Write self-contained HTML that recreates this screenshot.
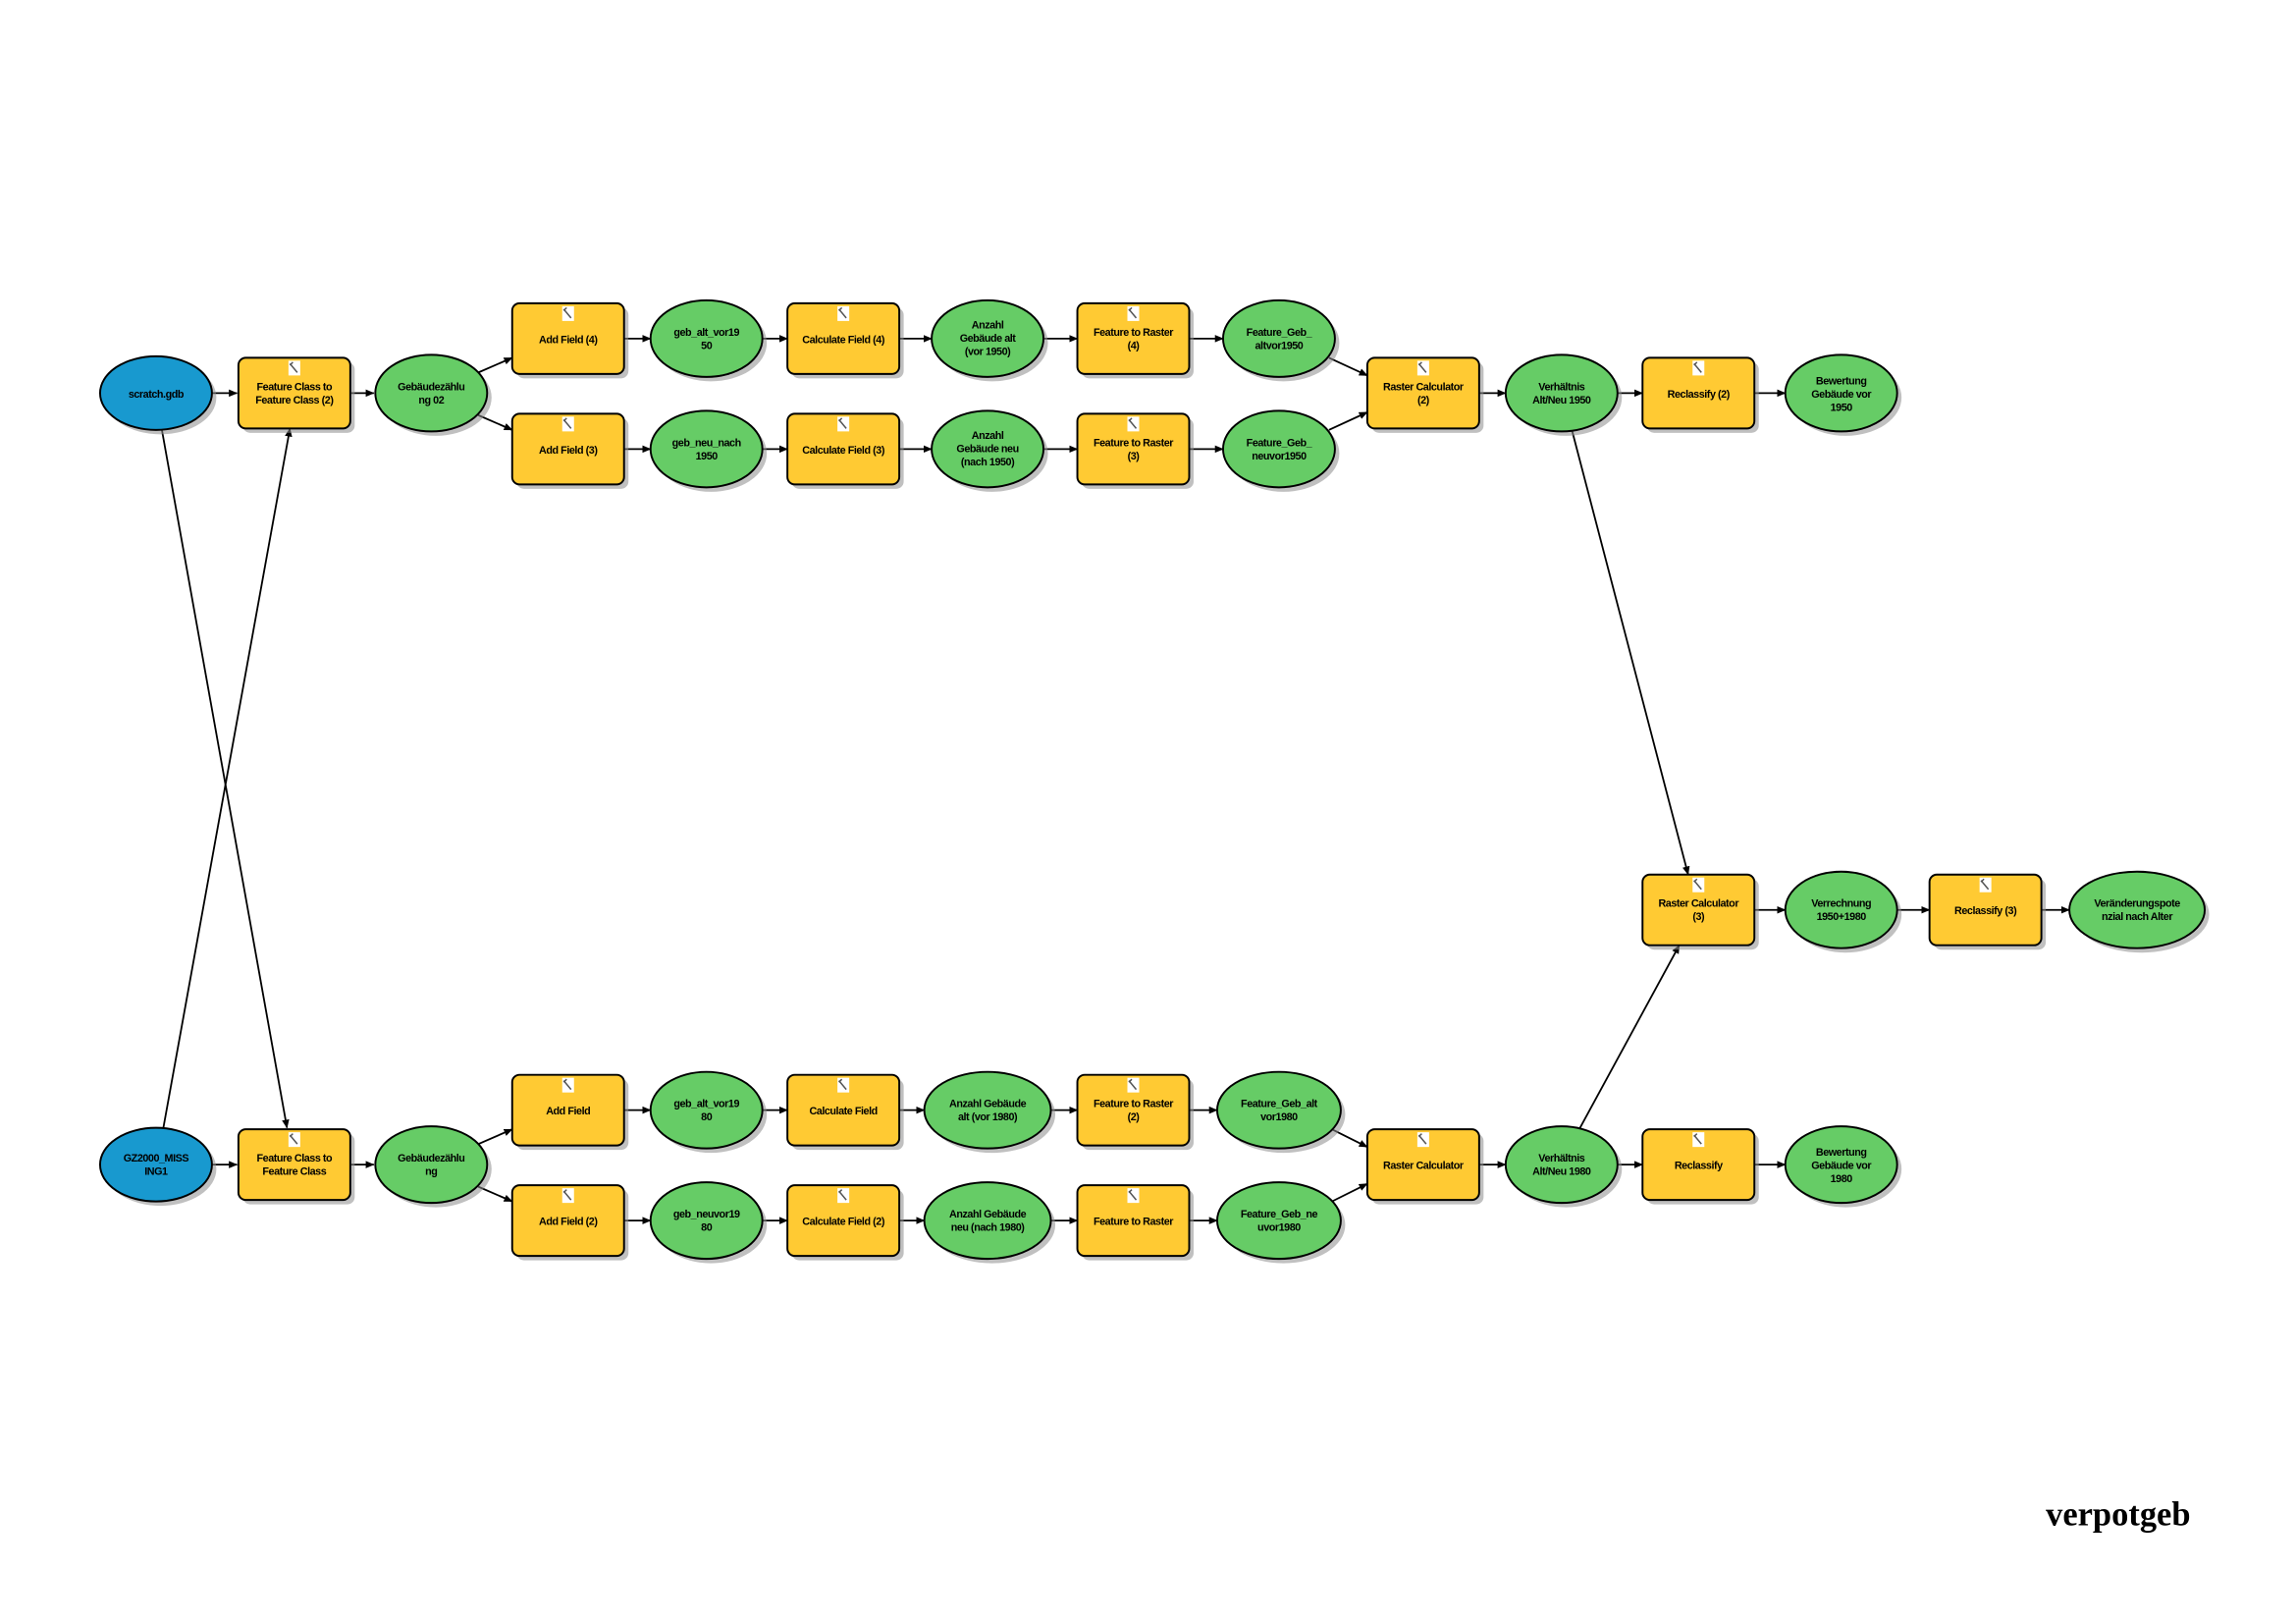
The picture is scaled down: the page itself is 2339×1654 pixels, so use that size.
<!DOCTYPE html>
<html><head><meta charset="utf-8"><style>
html,body{margin:0;padding:0;background:#fff}
svg{display:block}
text{font-family:"Liberation Sans",Arial,sans-serif;font-weight:bold;font-size:7.2px;text-anchor:middle;fill:#000;letter-spacing:-0.3px}
.b{fill:#FFCA33;stroke:#000;stroke-width:1.3}
.g{fill:#66CC66;stroke:#000;stroke-width:1.3}
.u{fill:#1899CF;stroke:#000;stroke-width:1.3}
.s{fill:#8c8c8c;opacity:.55}
.l{stroke:#000;stroke-width:1.2;fill:none;marker-end:url(#a)}
.ic{fill:#fff}
</style></head><body>
<svg width="2339" height="1654" viewBox="0 0 1560 1103" preserveAspectRatio="none" xmlns="http://www.w3.org/2000/svg">
<defs><marker id="a" markerWidth="6" markerHeight="6" refX="5.5" refY="3" orient="auto" markerUnits="userSpaceOnUse"><path d="M0,0.5 L6,3 L0,5.5z" fill="#000"/></marker>
<g id="icon"><rect x="-4" y="-22" width="8" height="10" class="ic"/><path d="M-3,-20 L2,-14 M-1,-21 L-3,-19" stroke="#555" stroke-width="1"/></g>
</defs>

<!-- edges -->
<g>
<line class="l" x1="144" y1="267" x2="161" y2="267"/>
<line class="l" x1="238" y1="267" x2="254" y2="267"/>
<line class="l" x1="325" y1="253" x2="348" y2="243"/>
<line class="l" x1="325" y1="282" x2="348" y2="292"/>
<line class="l" x1="424" y1="230" x2="442" y2="230"/>
<line class="l" x1="518" y1="230" x2="535" y2="230"/>
<line class="l" x1="611" y1="230" x2="633" y2="230"/>
<line class="l" x1="709" y1="230" x2="732" y2="230"/>
<line class="l" x1="808" y1="230" x2="831" y2="230"/>
<line class="l" x1="903" y1="243" x2="929" y2="255"/>
<line class="l" x1="424" y1="305" x2="442" y2="305"/>
<line class="l" x1="518" y1="305" x2="535" y2="305"/>
<line class="l" x1="611" y1="305" x2="633" y2="305"/>
<line class="l" x1="709" y1="305" x2="732" y2="305"/>
<line class="l" x1="808" y1="305" x2="831" y2="305"/>
<line class="l" x1="903" y1="292" x2="929" y2="280"/>
<line class="l" x1="1005" y1="267" x2="1023" y2="267"/>
<line class="l" x1="1099" y1="267" x2="1116" y2="267"/>
<line class="l" x1="1192" y1="267" x2="1213" y2="267"/>

<line class="l" x1="144" y1="791" x2="161" y2="791"/>
<line class="l" x1="238" y1="791" x2="254" y2="791"/>
<line class="l" x1="325" y1="777" x2="348" y2="767"/>
<line class="l" x1="325" y1="806" x2="348" y2="816"/>
<line class="l" x1="424" y1="754" x2="442" y2="754"/>
<line class="l" x1="518" y1="754" x2="535" y2="754"/>
<line class="l" x1="611" y1="754" x2="628" y2="754"/>
<line class="l" x1="714" y1="754" x2="732" y2="754"/>
<line class="l" x1="808" y1="754" x2="827" y2="754"/>
<line class="l" x1="905" y1="767" x2="929" y2="779"/>
<line class="l" x1="424" y1="829" x2="442" y2="829"/>
<line class="l" x1="518" y1="829" x2="535" y2="829"/>
<line class="l" x1="611" y1="829" x2="628" y2="829"/>
<line class="l" x1="714" y1="829" x2="732" y2="829"/>
<line class="l" x1="808" y1="829" x2="827" y2="829"/>
<line class="l" x1="905" y1="816" x2="929" y2="804"/>
<line class="l" x1="1005" y1="791" x2="1023" y2="791"/>
<line class="l" x1="1099" y1="791" x2="1116" y2="791"/>
<line class="l" x1="1192" y1="791" x2="1213" y2="791"/>

<line class="l" x1="1192" y1="618" x2="1213" y2="618"/>
<line class="l" x1="1289" y1="618" x2="1311" y2="618"/>
<line class="l" x1="1387" y1="618" x2="1406" y2="618"/>

<line class="l" x1="110" y1="292" x2="195" y2="766"/>
<line class="l" x1="111" y1="766" x2="197" y2="291"/>
<line class="l" x1="1068" y1="292" x2="1147" y2="594"/>
<line class="l" x1="1073" y1="767" x2="1141" y2="642"/>
</g>

<!-- node macros: box at (cx,cy): shadow rect, rect, icon -->
<!-- TOP -->
<ellipse class="s" cx="109" cy="270" rx="38" ry="25"/><ellipse class="u" cx="106" cy="267" rx="38" ry="25"/>
<text x="106" y="270">scratch.gdb</text>

<rect class="s" x="165" y="246" width="76" height="48" rx="5"/><rect class="b" x="162" y="243" width="76" height="48" rx="5"/><use href="#icon" x="200" y="267"/>
<text x="200" y="265">Feature Class to</text><text x="200" y="274">Feature Class (2)</text>

<ellipse class="s" cx="296" cy="270" rx="38" ry="26"/><ellipse class="g" cx="293" cy="267" rx="38" ry="26"/>
<text x="293" y="265">Gebäudezählu</text><text x="293" y="274">ng 02</text>

<rect class="s" x="351" y="209" width="76" height="48" rx="5"/><rect class="b" x="348" y="206" width="76" height="48" rx="5"/><use href="#icon" x="386" y="230"/>
<text x="386" y="233">Add Field (4)</text>
<ellipse class="s" cx="483" cy="233" rx="38" ry="26"/><ellipse class="g" cx="480" cy="230" rx="38" ry="26"/>
<text x="480" y="228">geb_alt_vor19</text><text x="480" y="237">50</text>
<rect class="s" x="538" y="209" width="76" height="48" rx="5"/><rect class="b" x="535" y="206" width="76" height="48" rx="5"/><use href="#icon" x="573" y="230"/>
<text x="573" y="233">Calculate Field (4)</text>
<ellipse class="s" cx="674" cy="233" rx="38" ry="26"/><ellipse class="g" cx="671" cy="230" rx="38" ry="26"/>
<text x="671" y="223">Anzahl</text><text x="671" y="232">Gebäude alt</text><text x="671" y="241">(vor 1950)</text>
<rect class="s" x="735" y="209" width="76" height="48" rx="5"/><rect class="b" x="732" y="206" width="76" height="48" rx="5"/><use href="#icon" x="770" y="230"/>
<text x="770" y="228">Feature to Raster</text><text x="770" y="237">(4)</text>
<ellipse class="s" cx="872" cy="233" rx="38" ry="26"/><ellipse class="g" cx="869" cy="230" rx="38" ry="26"/>
<text x="869" y="228">Feature_Geb_</text><text x="869" y="237">altvor1950</text>

<rect class="s" x="351" y="284" width="76" height="48" rx="5"/><rect class="b" x="348" y="281" width="76" height="48" rx="5"/><use href="#icon" x="386" y="305"/>
<text x="386" y="308">Add Field (3)</text>
<ellipse class="s" cx="483" cy="308" rx="38" ry="26"/><ellipse class="g" cx="480" cy="305" rx="38" ry="26"/>
<text x="480" y="303">geb_neu_nach</text><text x="480" y="312">1950</text>
<rect class="s" x="538" y="284" width="76" height="48" rx="5"/><rect class="b" x="535" y="281" width="76" height="48" rx="5"/><use href="#icon" x="573" y="305"/>
<text x="573" y="308">Calculate Field (3)</text>
<ellipse class="s" cx="674" cy="308" rx="38" ry="26"/><ellipse class="g" cx="671" cy="305" rx="38" ry="26"/>
<text x="671" y="298">Anzahl</text><text x="671" y="307">Gebäude neu</text><text x="671" y="316">(nach 1950)</text>
<rect class="s" x="735" y="284" width="76" height="48" rx="5"/><rect class="b" x="732" y="281" width="76" height="48" rx="5"/><use href="#icon" x="770" y="305"/>
<text x="770" y="303">Feature to Raster</text><text x="770" y="312">(3)</text>
<ellipse class="s" cx="872" cy="308" rx="38" ry="26"/><ellipse class="g" cx="869" cy="305" rx="38" ry="26"/>
<text x="869" y="303">Feature_Geb_</text><text x="869" y="312">neuvor1950</text>

<rect class="s" x="932" y="246" width="76" height="48" rx="5"/><rect class="b" x="929" y="243" width="76" height="48" rx="5"/><use href="#icon" x="967" y="267"/>
<text x="967" y="265">Raster Calculator</text><text x="967" y="274">(2)</text>
<ellipse class="s" cx="1064" cy="270" rx="38" ry="26"/><ellipse class="g" cx="1061" cy="267" rx="38" ry="26"/>
<text x="1061" y="265">Verhältnis</text><text x="1061" y="274">Alt/Neu 1950</text>
<rect class="s" x="1119" y="246" width="76" height="48" rx="5"/><rect class="b" x="1116" y="243" width="76" height="48" rx="5"/><use href="#icon" x="1154" y="267"/>
<text x="1154" y="270">Reclassify (2)</text>
<ellipse class="s" cx="1254" cy="270" rx="38" ry="26"/><ellipse class="g" cx="1251" cy="267" rx="38" ry="26"/>
<text x="1251" y="261">Bewertung</text><text x="1251" y="270">Gebäude vor</text><text x="1251" y="279">1950</text>

<!-- MIDDLE -->
<rect class="s" x="1119" y="597" width="76" height="48" rx="5"/><rect class="b" x="1116" y="594" width="76" height="48" rx="5"/><use href="#icon" x="1154" y="618"/>
<text x="1154" y="616">Raster Calculator</text><text x="1154" y="625">(3)</text>
<ellipse class="s" cx="1254" cy="621" rx="38" ry="26"/><ellipse class="g" cx="1251" cy="618" rx="38" ry="26"/>
<text x="1251" y="616">Verrechnung</text><text x="1251" y="625">1950+1980</text>
<rect class="s" x="1314" y="597" width="76" height="48" rx="5"/><rect class="b" x="1311" y="594" width="76" height="48" rx="5"/><use href="#icon" x="1349" y="618"/>
<text x="1349" y="621">Reclassify (3)</text>
<ellipse class="s" cx="1455" cy="621" rx="46" ry="26"/><ellipse class="g" cx="1452" cy="618" rx="46" ry="26"/>
<text x="1452" y="616">Veränderungspote</text><text x="1452" y="625">nzial nach Alter</text>

<!-- BOTTOM -->
<ellipse class="s" cx="109" cy="794" rx="38" ry="25"/><ellipse class="u" cx="106" cy="791" rx="38" ry="25"/>
<text x="106" y="789">GZ2000_MISS</text><text x="106" y="798">ING1</text>

<rect class="s" x="165" y="770" width="76" height="48" rx="5"/><rect class="b" x="162" y="767" width="76" height="48" rx="5"/><use href="#icon" x="200" y="791"/>
<text x="200" y="789">Feature Class to</text><text x="200" y="798">Feature Class</text>

<ellipse class="s" cx="296" cy="794" rx="38" ry="26"/><ellipse class="g" cx="293" cy="791" rx="38" ry="26"/>
<text x="293" y="789">Gebäudezählu</text><text x="293" y="798">ng</text>

<rect class="s" x="351" y="733" width="76" height="48" rx="5"/><rect class="b" x="348" y="730" width="76" height="48" rx="5"/><use href="#icon" x="386" y="754"/>
<text x="386" y="757">Add Field</text>
<ellipse class="s" cx="483" cy="757" rx="38" ry="26"/><ellipse class="g" cx="480" cy="754" rx="38" ry="26"/>
<text x="480" y="752">geb_alt_vor19</text><text x="480" y="761">80</text>
<rect class="s" x="538" y="733" width="76" height="48" rx="5"/><rect class="b" x="535" y="730" width="76" height="48" rx="5"/><use href="#icon" x="573" y="754"/>
<text x="573" y="757">Calculate Field</text>
<ellipse class="s" cx="674" cy="757" rx="43" ry="26"/><ellipse class="g" cx="671" cy="754" rx="43" ry="26"/>
<text x="671" y="752">Anzahl Gebäude</text><text x="671" y="761">alt (vor 1980)</text>
<rect class="s" x="735" y="733" width="76" height="48" rx="5"/><rect class="b" x="732" y="730" width="76" height="48" rx="5"/><use href="#icon" x="770" y="754"/>
<text x="770" y="752">Feature to Raster</text><text x="770" y="761">(2)</text>
<ellipse class="s" cx="872" cy="757" rx="42" ry="26"/><ellipse class="g" cx="869" cy="754" rx="42" ry="26"/>
<text x="869" y="752">Feature_Geb_alt</text><text x="869" y="761">vor1980</text>

<rect class="s" x="351" y="808" width="76" height="48" rx="5"/><rect class="b" x="348" y="805" width="76" height="48" rx="5"/><use href="#icon" x="386" y="829"/>
<text x="386" y="832">Add Field (2)</text>
<ellipse class="s" cx="483" cy="832" rx="38" ry="26"/><ellipse class="g" cx="480" cy="829" rx="38" ry="26"/>
<text x="480" y="827">geb_neuvor19</text><text x="480" y="836">80</text>
<rect class="s" x="538" y="808" width="76" height="48" rx="5"/><rect class="b" x="535" y="805" width="76" height="48" rx="5"/><use href="#icon" x="573" y="829"/>
<text x="573" y="832">Calculate Field (2)</text>
<ellipse class="s" cx="674" cy="832" rx="43" ry="26"/><ellipse class="g" cx="671" cy="829" rx="43" ry="26"/>
<text x="671" y="827">Anzahl Gebäude</text><text x="671" y="836">neu (nach 1980)</text>
<rect class="s" x="735" y="808" width="76" height="48" rx="5"/><rect class="b" x="732" y="805" width="76" height="48" rx="5"/><use href="#icon" x="770" y="829"/>
<text x="770" y="832">Feature to Raster</text>
<ellipse class="s" cx="872" cy="832" rx="42" ry="26"/><ellipse class="g" cx="869" cy="829" rx="42" ry="26"/>
<text x="869" y="827">Feature_Geb_ne</text><text x="869" y="836">uvor1980</text>

<rect class="s" x="932" y="770" width="76" height="48" rx="5"/><rect class="b" x="929" y="767" width="76" height="48" rx="5"/><use href="#icon" x="967" y="791"/>
<text x="967" y="794">Raster Calculator</text>
<ellipse class="s" cx="1064" cy="794" rx="38" ry="26"/><ellipse class="g" cx="1061" cy="791" rx="38" ry="26"/>
<text x="1061" y="789">Verhältnis</text><text x="1061" y="798">Alt/Neu 1980</text>
<rect class="s" x="1119" y="770" width="76" height="48" rx="5"/><rect class="b" x="1116" y="767" width="76" height="48" rx="5"/><use href="#icon" x="1154" y="791"/>
<text x="1154" y="794">Reclassify</text>
<ellipse class="s" cx="1254" cy="794" rx="38" ry="26"/><ellipse class="g" cx="1251" cy="791" rx="38" ry="26"/>
<text x="1251" y="785">Bewertung</text><text x="1251" y="794">Gebäude vor</text><text x="1251" y="803">1980</text>

<text x="1390" y="1036" style="font-family:'Liberation Serif',serif;font-size:23px;text-anchor:start;letter-spacing:0">verpotgeb</text>
</svg>
</body></html>
